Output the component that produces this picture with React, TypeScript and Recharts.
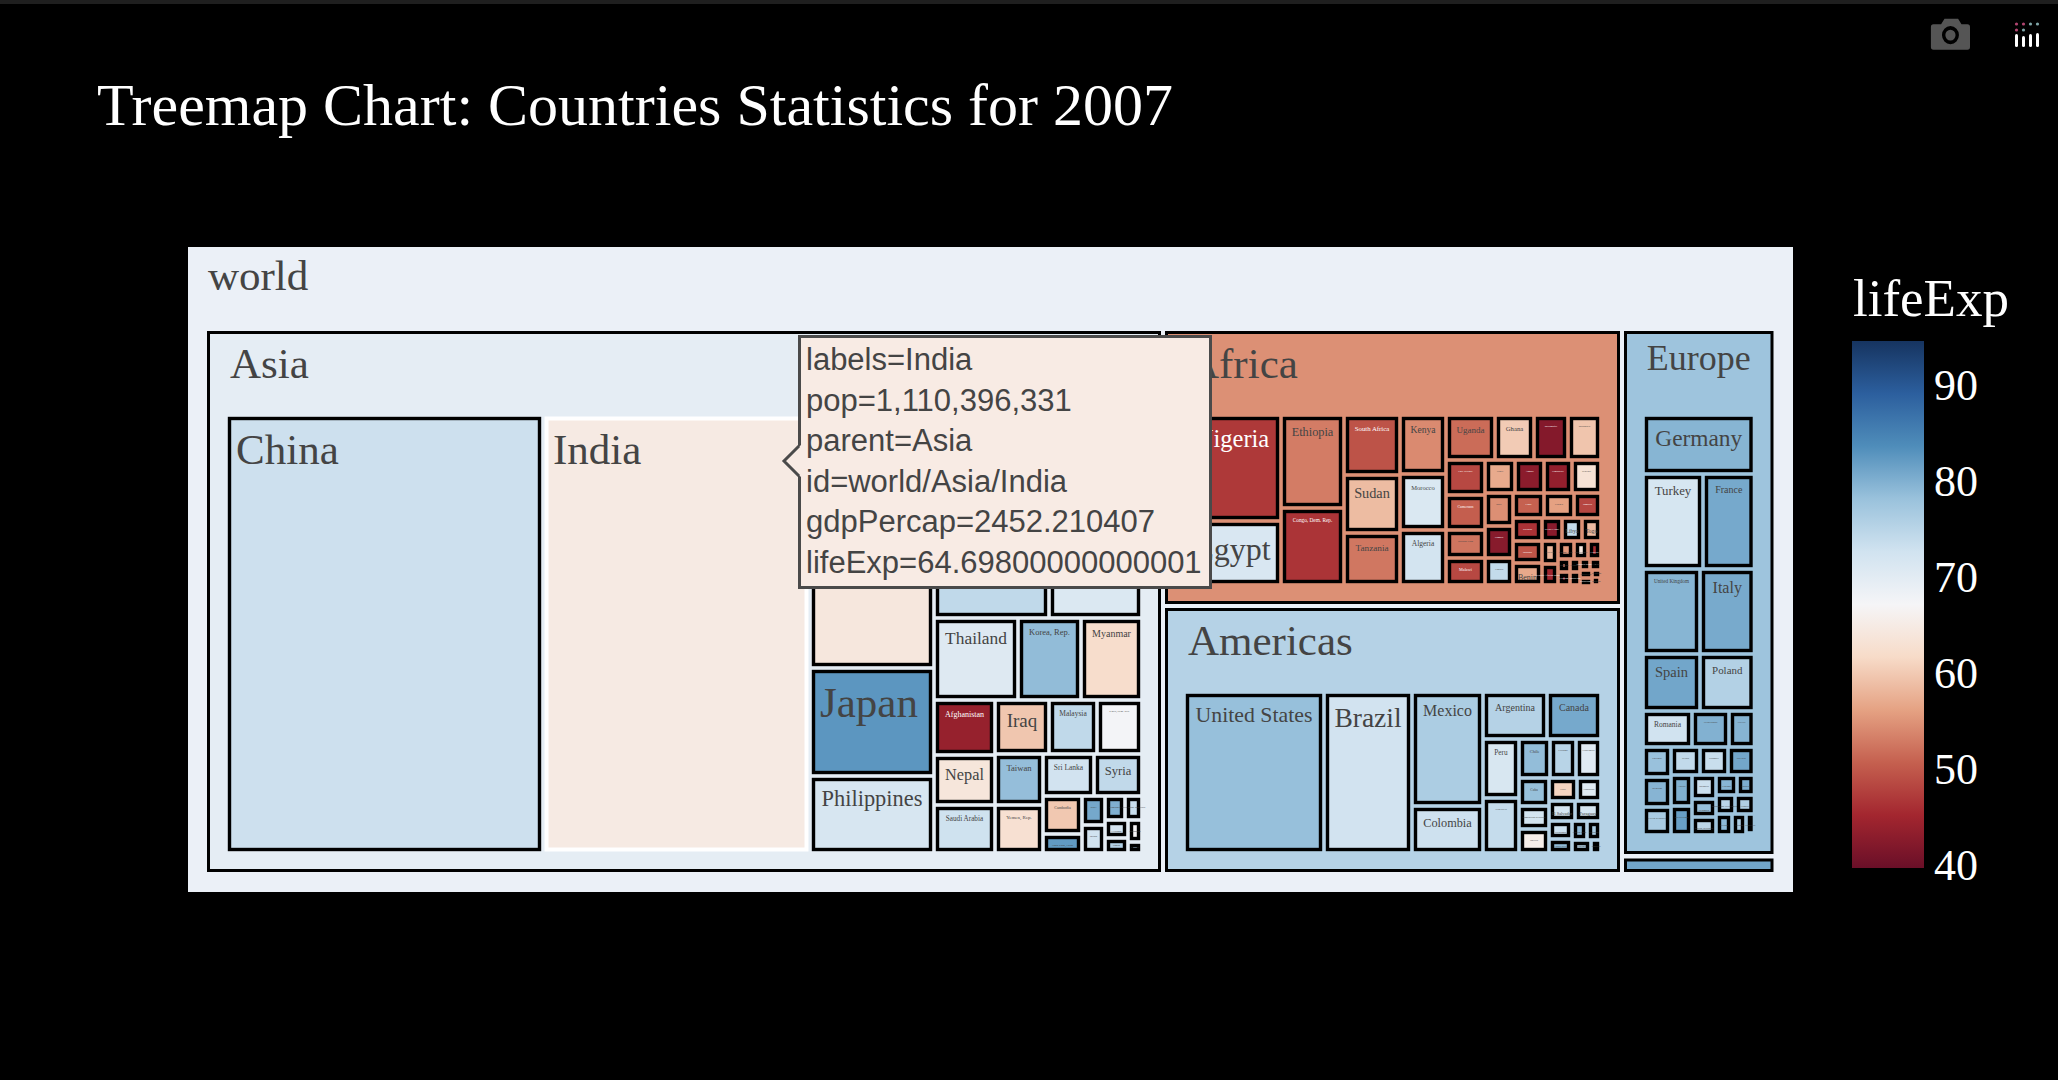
import React from "react"
import { Treemap, ComposedChart, Bar, XAxis, YAxis } from "recharts"

const asiaNames = ["China", "India", "Indonesia", "Pakistan", "Bangladesh", "Japan", "Philippines", "Vietnam", "Iran", "Thailand", "Korea, Rep.", "Myanmar", "Afghanistan", "Nepal", "Saudi Arabia", "Iraq", "Malaysia", "Korea, Dem. Rep.", "Taiwan", "Yemen, Rep.", "Sri Lanka", "Syria", "Cambodia", "Hong Kong, China", "Israel", "Jordan", "Singapore", "West Bank and Gaza", "Lebanon", "Oman", "Mongolia", "Kuwait", "Bahrain"]
const asiaPop = [1318683096, 1110396331, 223547000, 169270617, 150448339, 127467972, 91077287, 85262356, 69453570, 65068149, 49044790, 47761980, 31889923, 28901790, 27601038, 27499638, 24821286, 23301725, 23174294, 22211743, 20378239, 19314747, 14131858, 6980412, 6426679, 6053193, 4553009, 4018332, 3921278, 3204897, 2874127, 2505559, 708573]
const asiaLife = [72.961, 64.698, 70.65, 65.483, 64.062, 82.603, 71.688, 74.249, 70.964, 70.616, 78.623, 62.069, 43.828, 63.785, 72.777, 59.545, 74.241, 67.297, 78.4, 62.698, 72.396, 74.143, 59.723, 82.208, 80.745, 72.535, 79.972, 73.422, 71.993, 75.64, 66.803, 77.588, 75.635]

const africaNames = ["Nigeria", "Egypt", "Ethiopia", "Congo, Dem. Rep.", "South Africa", "Sudan", "Tanzania", "Kenya", "Morocco", "Algeria", "Uganda", "Ghana", "Mozambique", "Madagascar", "Cote d'Ivoire", "Cameroon", "Burkina Faso", "Malawi", "Niger", "Angola", "Zimbabwe", "Senegal", "Mali", "Zambia", "Tunisia", "Chad", "Guinea", "Somalia", "Rwanda", "Burundi", "Benin", "Sierra Leone", "Libya", "Togo", "Eritrea", "Central African Republic", "Congo, Rep.", "Mauritania", "Liberia", "Namibia", "Lesotho", "Gambia", "Botswana", "Guinea-Bissau", "Gabon", "Mauritius", "Swaziland", "Reunion", "Comoros", "Equatorial Guinea", "Djibouti", "Sao Tome and Principe"]
const africaPop = [135031164, 80264543, 76511887, 64606759, 43997828, 42292929, 38139640, 35610177, 33757175, 33333216, 29170398, 22873338, 19951656, 19167654, 18013409, 17696293, 14326203, 13327079, 12894865, 12420476, 12311143, 12267493, 12031795, 11746035, 10276158, 10238807, 9947814, 9118773, 8860588, 8390505, 8078314, 6144562, 6036914, 5701579, 4906585, 4369038, 3800610, 3270065, 3193942, 2055080, 2012649, 1688359, 1639131, 1472041, 1454867, 1250882, 1133066, 798094, 710960, 551201, 496374, 199579]
const africaLife = [46.859, 71.338, 52.947, 46.462, 49.339, 58.556, 52.517, 54.11, 71.164, 72.301, 51.542, 60.022, 42.082, 59.443, 48.328, 50.43, 52.295, 48.303, 56.867, 42.731, 43.487, 63.062, 54.467, 42.384, 73.923, 50.651, 56.007, 48.159, 46.242, 49.58, 56.728, 42.568, 73.952, 58.42, 58.04, 44.741, 55.322, 64.164, 45.678, 52.906, 42.592, 59.448, 50.728, 46.388, 56.735, 72.801, 39.613, 76.442, 65.152, 51.579, 54.791, 65.528]

const americasNames = ["United States", "Brazil", "Mexico", "Colombia", "Argentina", "Canada", "Peru", "Venezuela", "Chile", "Ecuador", "Guatemala", "Cuba", "Dominican Republic", "Bolivia", "Haiti", "Honduras", "El Salvador", "Paraguay", "Nicaragua", "Costa Rica", "Puerto Rico", "Uruguay", "Panama", "Jamaica", "Trinidad and Tobago"]
const americasPop = [301139947, 190010647, 108700891, 44227550, 40301927, 33390141, 28674757, 26084662, 16284741, 13755680, 12572928, 11416987, 9319622, 9119152, 8502814, 7483763, 6939688, 6667147, 5675356, 4133884, 3942491, 3447496, 3242173, 2780132, 1056608]
const americasLife = [78.242, 72.39, 76.195, 72.889, 75.32, 80.653, 71.421, 73.747, 78.553, 74.994, 70.259, 78.273, 72.235, 65.554, 60.916, 70.198, 71.878, 71.752, 72.899, 78.782, 78.746, 76.384, 75.537, 72.567, 69.819]

const europeNames = ["Germany", "Turkey", "France", "United Kingdom", "Italy", "Spain", "Poland", "Romania", "Netherlands", "Greece", "Portugal", "Belgium", "Czech Republic", "Serbia", "Hungary", "Sweden", "Austria", "Switzerland", "Bulgaria", "Denmark", "Slovak Republic", "Finland", "Norway", "Bosnia and Herzegovina", "Croatia", "Ireland", "Albania", "Slovenia", "Montenegro", "Iceland"]
const europePop = [82400996, 71158647, 61083916, 60776238, 58147733, 40448191, 38518241, 22276056, 16570613, 10706290, 10642836, 10392226, 10228744, 10150265, 9956108, 9031088, 8199783, 7554661, 7322858, 5468120, 5447502, 5238460, 4627926, 4552198, 4493312, 4109086, 3600523, 2009245, 684736, 301931]
const europeLife = [79.406, 71.777, 80.657, 79.425, 80.546, 80.941, 75.563, 72.476, 79.762, 79.483, 78.098, 79.441, 76.486, 74.002, 73.338, 80.884, 79.829, 81.701, 73.005, 78.332, 74.663, 79.313, 80.196, 74.852, 75.748, 78.885, 76.423, 77.926, 74.543, 81.757]

const oceaniaNames = ["Australia", "New Zealand"]
const oceaniaPop = [20434176, 4115771]
const oceaniaLife = [81.235, 80.204]

const regionNames = ["Asia", "Africa", "Americas", "Europe", "Oceania"]
const regionLife = [69.44, 54.56, 75.36, 77.65, 81.06]

const colorTicks = [40, 50, 60, 70, 80, 90]
const colorMin = 39.6
const colorMax = 94.5

const tooltipLines = ["labels=India", "pop=1,110,396,331", "parent=Asia", "id=world/Asia/India", "gdpPercap=2452.210407", "lifeExp=64.69800000000001"]

// RdBu as it looks in the reference screenshot, low = red
const rdbu = ["#6a0f28", "#a3262f", "#c5604f", "#e5a283", "#f7dbc8", "#f5f5f7", "#d1e3f0", "#9ac2dc", "#4f8dba", "#2c5f9e", "#163460"]

// these tiles sit fully under the hover box, so no label of theirs can be seen
const coveredLabels = ["Indonesia", "Pakistan", "Bangladesh", "Vietnam", "Iran"]

// label sizes, plotly shrinks them in its own way
const labelFont: Record<string, number> = {
    China: 43, India: 43, Japan: 43, Philippines: 22.4,
    Thailand: 17.4, "Korea, Rep.": 8.5, Myanmar: 10, Afghanistan: 8, Iraq: 19, Malaysia: 7.5, Nepal: 16.3, Taiwan: 8.6,
    "Sri Lanka": 7.5, Syria: 12.6, "Saudi Arabia": 7.2, "Yemen, Rep.": 5, Cambodia: 4,
    Nigeria: 24.5, Egypt: 32, Ethiopia: 12.3, "South Africa": 6.8, Kenya: 9.6, Uganda: 9, Ghana: 6.7, Mozambique: 2.4, Madagascar: 2.4,
    "Congo, Dem. Rep.": 5.3, Sudan: 14.3, Morocco: 6.5, Tanzania: 9.2, Algeria: 7.5, Cameroon: 3.8, Malawi: 4.2, Benin: 8, Libya: 5.5, Togo: 6,
    "United States": 21.8, Brazil: 27.5, Mexico: 16, Argentina: 10, Canada: 10, Colombia: 12.3, Peru: 7.3, Chile: 4.5, Cuba: 3.5,
    "El Salvador": 4.4, Paraguay: 4.7,
    Germany: 23.4, Turkey: 12.8, France: 10, "United Kingdom": 5.2, Italy: 16, Spain: 14.5, Poland: 10.9, Romania: 7.5,
}

const serif = "'Liberation Serif', serif"
const INSET = 3.5

const zipCountries = (names: string[], pop: number[], life: number[]) =>
    names.map((name, i) => ({ name, pop: pop[i], life: life[i] }))

const members = [
    zipCountries(asiaNames, asiaPop, asiaLife),
    zipCountries(africaNames, africaPop, africaLife),
    zipCountries(americasNames, americasPop, americasLife),
    zipCountries(europeNames, europePop, europeLife),
    zipCountries(oceaniaNames, oceaniaPop, oceaniaLife),
]

const regions = regionNames.map((name, i) => ({
    name,
    life: regionLife[i],
    members: members[i],
    pop: members[i].reduce((sum, c) => sum + c.pop, 0),
}))

function hexToRgb(hex: string) {
    return [1, 3, 5].map((i) => parseInt(hex.slice(i, i + 2), 16))
}

function lifeColor(life: number) {
    const t = Math.min(0.9999, Math.max(0, (life - colorMin) / (colorMax - colorMin))) * (rdbu.length - 1)
    const i = Math.floor(t)
    const a = hexToRgb(rdbu[i])
    const b = hexToRgb(rdbu[i + 1])
    return a.map((v, k) => Math.round(v + (b[k] - v) * (t - i)))
}

const cssColor = (rgb: number[]) => `rgb(${rgb[0]},${rgb[1]},${rgb[2]})`

const textColor = (rgb: number[]) =>
    (rgb[0] * 299 + rgb[1] * 587 + rgb[2] * 114) / 1000 < 128 ? "#ffffff" : "#444444"

function CountryCell(props: any) {
    const { x, y, width, height, depth, name, life } = props
    if (depth !== 1 || !name) return null
    // plotly drops the slivers that have no room left inside the border
    if (width < 6 || height < 6) return null
    const rgb = lifeColor(life)
    const hovered = name === "India"
    const size = labelFont[name] ?? 2.8
    const big = size >= 43
    const labelY = height < 18 ? y + height / 2 + size / 3 : y + 9.5 + size * 0.93
    return (
        <g>
            <rect
                x={x + INSET}
                y={y + INSET}
                width={Math.max(width - INSET * 2, 1)}
                height={Math.max(height - INSET * 2, 1)}
                fill={cssColor(rgb)}
                stroke={hovered ? "#ffffff" : "#000000"}
                strokeWidth={hovered ? 4 : 3.4}
            />
            {!coveredLabels.includes(name) && (
                <text
                    x={big ? x + 10 : x + width / 2}
                    y={labelY}
                    textAnchor={big ? "start" : "middle"}
                    fontFamily={serif}
                    fontSize={size}
                    fill={textColor(rgb)}
                >
                    {name}
                </text>
            )}
        </g>
    )
}

function RegionCell(props: any) {
    const { x, y, width, height, depth, name, life, members } = props
    if (depth !== 1 || !name) return null
    const rgb = lifeColor(life)
    const hasHeader = height > 60
    const topGap = hasHeader ? INSET : 8
    // plotly gives Oceania's strip a bit less room than its share, Europe takes it
    const extraBottom = name === "Europe" ? 4 : 0
    const titleSize = name === "Europe" ? 36 : 43
    const innerW = width - 42
    const innerH = height - 86 - 21 + extraBottom
    return (
        <g>
            <rect
                x={x + INSET}
                y={y + topGap}
                width={width - INSET * 2}
                height={height - topGap - INSET + extraBottom}
                fill={cssColor(rgb)}
                stroke="#000000"
                strokeWidth={3}
            />
            {hasHeader && (
                <text
                    x={name === "Europe" ? x + width / 2 : x + 25}
                    y={y + 2 + titleSize * 1.09}
                    textAnchor={name === "Europe" ? "middle" : "start"}
                    fontFamily={serif}
                    fontSize={titleSize}
                    fill="#444444"
                >
                    {name}
                </text>
            )}
            {hasHeader && (
                <foreignObject x={x + 21} y={y + 86} width={innerW} height={innerH} style={{ overflow: "visible" }}>
                    <Treemap
                        width={innerW}
                        height={innerH}
                        data={members}
                        dataKey="pop"
                        nameKey="name"
                        aspectRatio={1}
                        isAnimationActive={false}
                        isUpdateAnimationActive={false}
                        content={<CountryCell />}
                    />
                </foreignObject>
            )}
        </g>
    )
}

function ColorBar() {
    // svg stops have to run in rising offset, the top of the bar is the high end
    const stops = rdbu
        .slice()
        .reverse()
        .map((color, i) => <stop key={color} offset={`${i * 10}%`} stopColor={color} />)
    return (
        <ComposedChart
            width={190}
            height={587}
            data={[{ name: "lifeExp", range: [colorMin, colorMax] }]}
            margin={{ top: 30, right: 0, bottom: 30, left: 0 }}
            barCategoryGap={0}
        >
            <defs>
                <linearGradient id="lifeExpScale" x1="0" y1="0" x2="0" y2="1">
                    {stops}
                </linearGradient>
            </defs>
            <XAxis dataKey="name" hide />
            <YAxis
                orientation="right"
                width={118}
                domain={[colorMin, colorMax]}
                ticks={colorTicks}
                axisLine={false}
                tickLine={false}
                tickMargin={4}
                tick={{ fill: "#ffffff", fontSize: 44, fontFamily: serif, textAnchor: "start" }}
            />
            <Bar dataKey="range" fill="url(#lifeExpScale)" isAnimationActive={false} />
        </ComposedChart>
    )
}

function ModeBar() {
    return (
        <svg width={120} height={40} style={{ position: "absolute", left: 1928, top: 16 }}>
            <g transform="translate(-0.5 0) scale(0.85 0.91)">
                <path
                    d="M7 9 h9 l4 -6 h16 l4 6 h7 a3 3 0 0 1 3 3 v22 a3 3 0 0 1 -3 3 h-40 a3 3 0 0 1 -3 -3 v-22 a3 3 0 0 1 3 -3 z"
                    fill="#555555"
                />
                <circle cx={27} cy={21} r={8} fill="none" stroke="#000000" strokeWidth={4} />
            </g>
            {[87, 94, 101, 108].map((bx, i) => (
                <g key={bx}>
                    <rect x={bx} y={[18, 20, 18, 17][i]} width={3} height={[13, 11, 13, 14][i]} rx={1.5} fill="#ffffff" />
                    <circle cx={bx + 1.5} cy={8} r={1.6} fill={i < 2 ? "#b0446f" : "#7fa6a8"} />
                    {i < 2 ? <circle cx={bx + 1.5} cy={14} r={1.6} fill={i === 0 ? "#b0446f" : "#7fa6a8"} /> : null}
                </g>
            ))}
        </svg>
    )
}

function HoverLabel() {
    return (
        <>
            <div
                style={{
                    position: "absolute",
                    left: 798,
                    top: 335,
                    width: 403,
                    height: 246,
                    padding: "2px 0 0 5px",
                    boxSizing: "content-box",
                    background: "#f8ebe4",
                    border: "3px solid #4a4a4a",
                    color: "#444444",
                    fontFamily: "'Liberation Sans', sans-serif",
                    fontSize: 31,
                    lineHeight: "40.5px",
                    whiteSpace: "nowrap",
                }}
            >
                {tooltipLines.map((line) => (
                    <div key={line}>{line}</div>
                ))}
            </div>
            <svg width={22} height={40} style={{ position: "absolute", left: 782, top: 441 }}>
                <polygon points="19,4 2,20 19,36" fill="#f8ebe4" />
                <polyline points="17,5 2,20 17,35" fill="none" stroke="#4a4a4a" strokeWidth={3} />
            </svg>
        </>
    )
}

export default function App() {
    return (
        <div style={{ position: "fixed", left: 0, top: 0, width: 2058, height: 1080, background: "#000000", overflow: "hidden" }}>
            <style>{"svg { overflow: visible; }"}</style>
            <div style={{ position: "absolute", left: 0, top: 0, width: 2058, height: 4, background: "#1f1f1f" }} />
            <div
                style={{
                    position: "absolute",
                    left: 97,
                    top: 70,
                    color: "#ffffff",
                    fontFamily: serif,
                    fontSize: 60,
                    lineHeight: "70px",
                    whiteSpace: "nowrap",
                }}
            >
                Treemap Chart: Countries Statistics for 2007
            </div>
            <ModeBar />

            <div style={{ position: "absolute", left: 188, top: 247, width: 1605, height: 645, background: "#ebf0f7" }}>
                <div style={{ position: "absolute", left: 20, top: 3, color: "#444444", fontFamily: serif, fontSize: 43, lineHeight: "52px" }}>
                    world
                </div>
            </div>
            <div style={{ position: "absolute", left: 204.5, top: 328.5 }}>
                <Treemap
                    width={1570.5}
                    height={545}
                    data={regions}
                    dataKey="pop"
                    nameKey="name"
                    aspectRatio={1}
                    isAnimationActive={false}
                    isUpdateAnimationActive={false}
                    content={<RegionCell />}
                />
            </div>
            <HoverLabel />

            <div style={{ position: "absolute", left: 1853, top: 266, color: "#ffffff", fontFamily: serif, fontSize: 53, lineHeight: "64px" }}>
                lifeExp
            </div>
            <div style={{ position: "absolute", left: 1852, top: 311 }}>
                <ColorBar />
            </div>
        </div>
    )
}
